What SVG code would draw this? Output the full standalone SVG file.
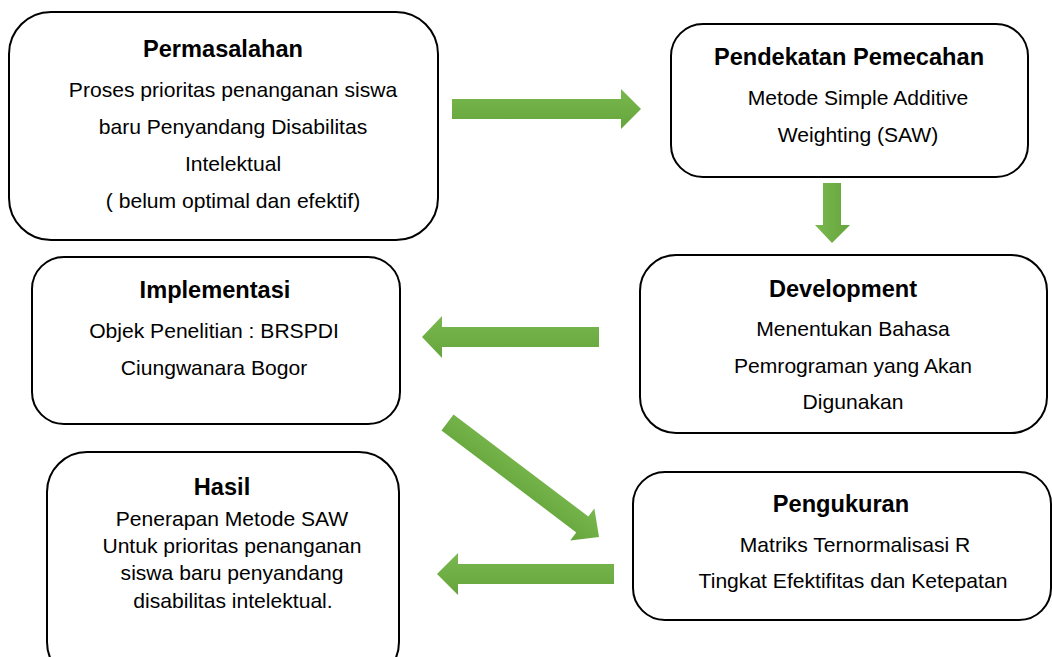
<svg xmlns="http://www.w3.org/2000/svg" width="1052" height="657" viewBox="0 0 1052 657">
<defs>
<linearGradient id="gh" x1="0" y1="0" x2="0" y2="1">
<stop offset="0" stop-color="#7ab84f"/>
<stop offset="1" stop-color="#64a53b"/>
</linearGradient>
<linearGradient id="gv" x1="0" y1="0" x2="1" y2="0">
<stop offset="0" stop-color="#7ab84f"/>
<stop offset="1" stop-color="#64a53b"/>
</linearGradient>
<style>
.box{fill:#ffffff;stroke:#000000;stroke-width:2}
.t{font-family:"Liberation Sans",Arial,sans-serif;font-weight:bold;font-size:23.6px;fill:#000;text-anchor:middle}
.b{font-family:"Liberation Sans",Arial,sans-serif;font-size:21.1px;fill:#000;text-anchor:middle}
.arr{fill:url(#gh)}
.arrv{fill:url(#gv)}
</style>
</defs>
<rect width="1052" height="657" fill="#ffffff"/>
<g id="connectors">
<polygon class="arr" points="452,99 621,99 621,89 641,109 621,129 621,119 452,119"/>
<polygon class="arrv" points="823,183 841,183 841,225 850,225 832,243 815,225 823,225"/>
<polygon class="arr" points="599,327 442,327 442,316 422,337 442,358 442,347 599,347"/>
<polygon class="arr" transform="translate(447.5,422.5) rotate(37.1)" points="0,-10 169,-10 169,-20 190,0 169,20 169,10 0,10"/>
<polygon class="arr" points="614,564 458,564 458,553 437,574 458,595 458,584 614,584"/>
</g>
<g id="permasalahan">
<rect class="box" x="9" y="12" width="429" height="228" rx="42"/>
<text class="t" x="223" y="57">Permasalahan</text>
<text class="b" x="233" y="97">Proses prioritas penanganan siswa</text>
<text class="b" x="233" y="134">baru Penyandang Disabilitas</text>
<text class="b" x="233" y="171">Intelektual</text>
<text class="b" x="233" y="208">( belum optimal dan efektif)</text>
</g>
<g id="pendekatan">
<rect class="box" x="671" y="24" width="357" height="153" rx="32"/>
<text class="t" x="849" y="65">Pendekatan Pemecahan</text>
<text class="b" x="858" y="105">Metode Simple Additive</text>
<text class="b" x="858" y="142">Weighting (SAW)</text>
</g>
<g id="development">
<rect class="box" x="640" y="255" width="407" height="178" rx="36"/>
<text class="t" x="843" y="297">Development</text>
<text class="b" x="853" y="336">Menentukan Bahasa</text>
<text class="b" x="853" y="373">Pemrograman yang Akan</text>
<text class="b" x="853" y="409">Digunakan</text>
</g>
<g id="implementasi">
<rect class="box" x="32" y="257" width="368" height="167" rx="32"/>
<text class="t" x="215" y="298">Implementasi</text>
<text class="b" x="214" y="338">Objek Penelitian : BRSPDI</text>
<text class="b" x="214" y="375">Ciungwanara Bogor</text>
</g>
<g id="pengukuran">
<rect class="box" x="633" y="472" width="418" height="148" rx="32"/>
<text class="t" x="841" y="512">Pengukuran</text>
<text class="b" x="855" y="552">Matriks Ternormalisasi R</text>
<text class="b" x="853" y="588">Tingkat Efektifitas dan Ketepatan</text>
</g>
<g id="hasil">
<rect class="box" x="47" y="452" width="352" height="230" rx="40"/>
<text class="t" x="222" y="495">Hasil</text>
<text class="b" x="232" y="526">Penerapan Metode SAW</text>
<text class="b" x="232" y="553">Untuk prioritas penanganan</text>
<text class="b" x="232" y="580">siswa baru penyandang</text>
<text class="b" x="233" y="608">disabilitas intelektual.</text>
</g>
</svg>
